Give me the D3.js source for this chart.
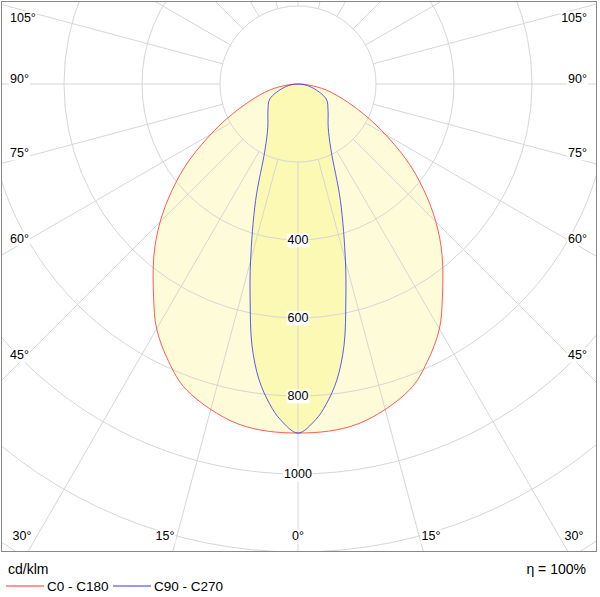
<!DOCTYPE html>
<html><head><meta charset="utf-8">
<script src="https://cdn.jsdelivr.net/npm/d3@7"></script>
<style>body{margin:0;background:#fff}text{font-family:"Liberation Sans",Arial,sans-serif}</style>
</head><body>
<script>
// angles measured from nadir (0° = straight down), symmetric on both sides
const redAngles  = [0, 10, 20, 25, 30, 34, 40, 45, 50, 55, 61, 65, 70, 78, 85, 90];
const redValues  = [895, 885, 835, 785, 725, 662, 575, 500, 420, 340, 244, 190, 135, 74, 25, 0];
const blueAngles = [0, 3, 5, 7.5, 10, 12.5, 15, 20, 26.6, 35, 49, 62, 77, 90];
const blueValues = [895, 862, 825, 765, 680, 567, 470, 318, 189, 135, 102, 82, 34, 0];
const ringValues = [200, 400, 600, 800, 1000, 1200, 1400];
const ringLabels = [400, 600, 800, 1000];
const sideLabels = [45, 60, 75, 90, 105];
const bottomLabels = [0, 15, 30];

const W = 600, H = 597, fw = 596, fh = 551;
const cx = 298, cy = 84;
const r = d3.scaleLinear().domain([0, 200]).range([0, 78]);
const rad = d => d * Math.PI / 180;

const svg = d3.select("body").append("svg").attr("width", W).attr("height", H);
svg.append("clipPath").attr("id", "fr").append("rect").attr("x", 1).attr("y", 1).attr("width", fw - 1).attr("height", fh - 1);
const g = svg.append("g").attr("clip-path", "url(#fr)");

// closed curve: right side from 90° down to 0°, then left side back up to 90°
const pts = (angles, vals) => {
  const right = angles.map((a, i) => [cx + r(vals[i]) * Math.sin(rad(a)), cy + r(vals[i]) * Math.cos(rad(a))]);
  const left = angles.map((a, i) => [cx - r(vals[i]) * Math.sin(rad(a)), cy + r(vals[i]) * Math.cos(rad(a))]);
  return right.slice().reverse().concat(left.slice(1, -1));
};
const line = d3.line().curve(d3.curveCatmullRomClosed);

g.append("path").attr("d", line(pts(redAngles, redValues))).attr("fill", "#fefcd8").attr("stroke", "none");
g.append("path").attr("d", line(pts(blueAngles, blueValues))).attr("fill", "#fcf9b4").attr("stroke", "none");

// grid
g.selectAll("circle.ring").data(ringValues).join("circle")
  .attr("cx", cx).attr("cy", cy).attr("r", d => r(d))
  .attr("fill", "none").attr("stroke", "#d6d6d6").attr("stroke-width", 1);
g.selectAll("line.spoke").data(d3.range(0, 360, 15)).join("line")
  .attr("x1", d => cx + r(200) * Math.sin(rad(d))).attr("y1", d => cy + r(200) * Math.cos(rad(d)))
  .attr("x2", d => cx + 900 * Math.sin(rad(d))).attr("y2", d => cy + 900 * Math.cos(rad(d)))
  .attr("stroke", "#d6d6d6");

g.append("path").attr("d", line(pts(redAngles, redValues))).attr("fill", "none").attr("stroke", "#ff3030").attr("stroke-width", 0.8);
g.append("path").attr("d", line(pts(blueAngles, blueValues))).attr("fill", "none").attr("stroke", "#3030ff").attr("stroke-width", 0.8);

// labels with white background
const label = (x, y, t, anchor) => {
  const tx = svg.append("text").attr("x", x).attr("y", y).attr("dy", "0.35em")
    .attr("text-anchor", anchor).attr("font-size", 12.5).text(t);
  const b = tx.node().getBBox();
  svg.insert("rect", () => tx.node()).attr("x", b.x - 1).attr("y", b.y).attr("width", b.width + 2).attr("height", b.height).attr("fill", "#fff");
};
ringLabels.forEach(v => label(cx, cy + r(v), v, "middle"));
sideLabels.forEach(a => {
  const y = Math.max(18, cy + 276 / Math.tan(rad(a)) - 5);
  label(10, y, a + "°", "start");
  label(587, y, a + "°", "end");
});
bottomLabels.forEach(a => {
  const dx = a === 0 ? 0 : a === 15 ? 133 : 276;
  label(cx - dx, 536, a + "°", "middle");
  if (a) label(cx + dx, 536, a + "°", "middle");
});

svg.append("rect").attr("x", 1.5).attr("y", 1.5).attr("width", fw - 1).attr("height", fh - 1)
  .attr("fill", "none").attr("stroke", "#888");

// footer
svg.append("text").attr("x", 8).attr("y", 574).attr("font-size", 14).text("cd/klm");
svg.append("text").attr("x", 586).attr("y", 574).attr("font-size", 14).attr("text-anchor", "end").text("η =  100%");
const legend = [["C0 - C180", "#ff3030", 6], ["C90 - C270", "#3030ff", 113]];
legend.forEach(([t, c, x]) => {
  svg.append("line").attr("x1", x).attr("x2", x + 38).attr("y1", 586).attr("y2", 586).attr("stroke", c);
  svg.append("text").attr("x", x + 41).attr("y", 590.5).attr("font-size", 13.5).text(t);
});
</script>
</body></html>
